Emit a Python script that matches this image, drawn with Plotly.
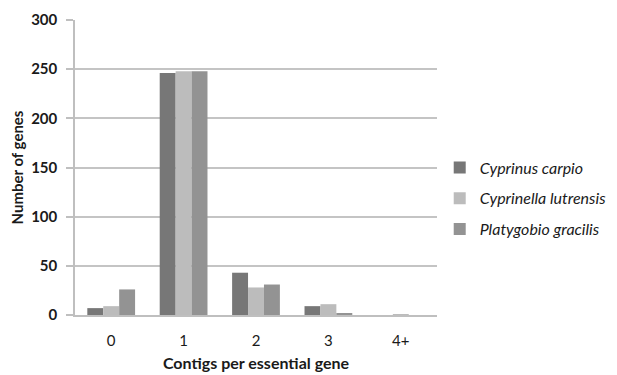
import plotly.graph_objects as go

categories = ["0", "1", "2", "3", "4+"]
series_names = ["Cyprinus carpio", "Cyprinella lutrensis", "Platygobio gracilis"]
carpio = [7, 246, 43, 9, 0]
lutrensis = [9, 248, 28, 11, 1]
gracilis = [26, 248, 31, 2, 0]
y_ticks = [0, 50, 100, 150, 200, 250, 300]

colors = ["#777777", "#bcbcbc", "#939393"]
values = [carpio, lutrensis, gracilis]

fig = go.Figure()
for name, vals, c in zip(series_names, values, colors):
    fig.add_trace(go.Bar(x=categories, y=vals, name=name, legendgroup=name,
                         marker=dict(color=c, line=dict(width=0))))

font_family = "Lato, 'Open Sans', sans-serif"
fig.update_layout(
    width=617, height=375,
    margin=dict(l=67, r=188, t=12, b=68, autoexpand=False),
    paper_bgcolor="white", plot_bgcolor="white",
    barmode="group", bargap=0.34, bargroupgap=0,
    font=dict(family=font_family, color="#1a1a1a", size=14),
    legend=dict(x=1.0075, y=0.395, yanchor="middle", xanchor="left",
                font=dict(size=16, style="italic", color="#1a1a1a"),
                itemwidth=30, tracegroupgap=7, bgcolor="rgba(0,0,0,0)"),
    showlegend=True,
)
fig.update_xaxes(
    showline=True, linecolor="#bfbfbf", linewidth=1.5,
    showgrid=False, ticks="", tickfont=dict(size=15),
    ticklabelstandoff=11,
    title=dict(text="<b>Contigs per essential gene</b>", font=dict(size=16), standoff=10),
)
fig.update_yaxes(
    range=[0, 300], tickvals=y_ticks, ticktext=[f"<b>{v}</b>" for v in y_ticks],
    showgrid=True, gridcolor="#c4c4c4", gridwidth=1.5,
    showline=True, linecolor="#bfbfbf", linewidth=1.5,
    ticks="outside", ticklen=7, tickcolor="#bfbfbf", tickwidth=1.5,
    tickfont=dict(size=15), ticklabelstandoff=6,
    title=dict(text="<b>Number of genes</b>", font=dict(size=15), standoff=8),
    zeroline=False,
)
fig.write_html("out.html")
